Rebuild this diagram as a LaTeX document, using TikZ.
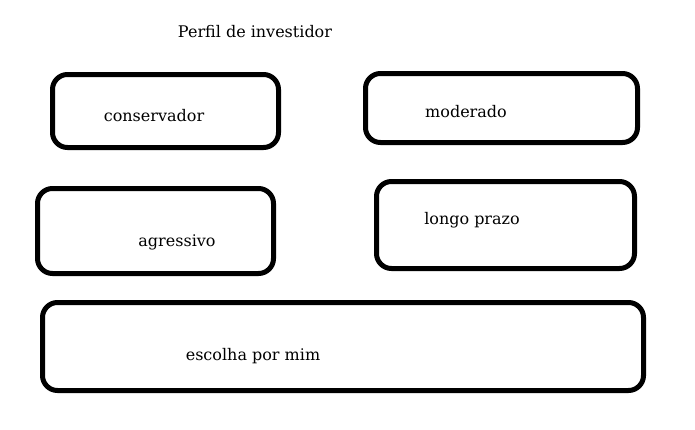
\documentclass[tikz,border=0pt]{standalone}
\usepackage{fontspec}
\setmainfont{DejaVu Serif}
\usetikzlibrary{positioning}

\tikzset{
  profilebox/.style={draw, line width=5pt, rounded corners=15pt, inner sep=0pt},
  label/.style={font=\fontsize{16pt}{19pt}\selectfont, inner sep=0pt}
}

\begin{document}
\begin{tikzpicture}[x=1pt, y=-1pt]
    \useasboundingbox (0,0) rectangle (695,429);
    % title
    \node[label] (title) at (255,32) {Perfil de investidor};
    % boxes
    \node[profilebox, minimum width=226pt, minimum height=73pt] (conservbox) at (165.5,111) {};
    \node[profilebox, minimum width=272pt, minimum height=69pt] (moderbox) at (501.5,108) {};
    \node[profilebox, minimum width=236pt, minimum height=85pt] (agressbox) at (155.5,231) {};
    \node[profilebox, minimum width=258pt, minimum height=87pt] (longobox) at (505.5,225) {};
    \node[profilebox, minimum width=601pt, minimum height=88pt] (escolhabox) at (343,346.5) {};
    % texts
    \node[label] (conserv) at (154,116) {conservador};
    \node[label] (moder) at (466,112) {moderado};
    \node[label] (agress) at (177,242) {agressivo};
    \node[label] (longo) at (472,220) {longo prazo};
    \node[label] (escolha) at (253,356) {escolha por mim};
\end{tikzpicture}
\end{document}
